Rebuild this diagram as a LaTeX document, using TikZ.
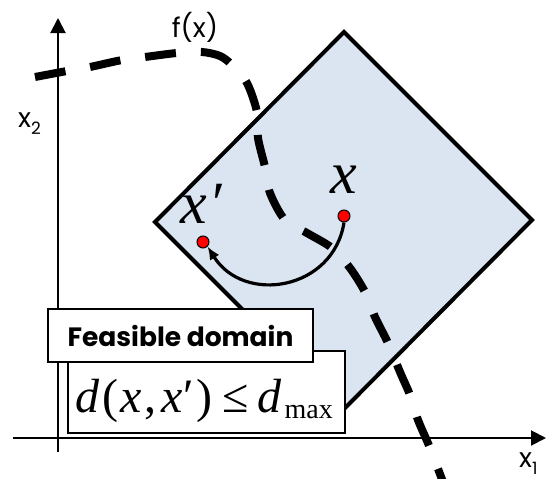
\documentclass[tikz,border=0pt]{standalone}
\usepackage{fontspec}
\newfontfamily\gothic{Poppins}
\newfontfamily\tnr{Liberation Serif}
\newfontfamily\tnri{Liberation Serif Italic}
\usetikzlibrary{arrows.meta}
\definecolor{domainblue}{RGB}{219,228,241}
\definecolor{dotred}{RGB}{255,0,0}
\tikzset{
  axisline/.style={line width=2pt,-{Triangle[length=15pt,width=15pt]}},
  domainshape/.style={draw=black,line width=4pt,fill=domainblue,line join=miter},
  fcurve/.style={line width=8pt,dash pattern=on 31pt off 25pt},
  ptdot/.style={circle,draw=black,line width=1pt,fill=dotred,minimum size=12pt,inner sep=0pt},
  labelbox/.style={draw=black,line width=2pt,fill=white},
  movearrow/.style={line width=3.2pt,-{Latex[length=13pt,width=11pt]}},
  axlabel/.style={font=\gothic\fontsize{27}{30}\selectfont,inner sep=0pt},
}
\begin{document}
\begin{tikzpicture}[x=1pt,y=-1pt]
\useasboundingbox (0,0) rectangle (546,479);
% axes
\coordinate (yb) at (58,452);
\coordinate (yt) at (58,18);
\coordinate (xb) at (13,438);
\coordinate (xt) at (546,438);
\draw[axisline] (yb) -- (yt);
\draw[axisline] (xb) -- (xt);
\node[axlabel,anchor=base west] (x2) at (18,127) {x\raisebox{-7pt}{\fontsize{17}{17}\selectfont 2}};
\node[axlabel,anchor=base west] (x1) at (519,467) {x\raisebox{-7pt}{\fontsize{17}{17}\selectfont 1}};
% feasible domain
\coordinate (dt) at (344,32);
\coordinate (dr) at (532,220);
\coordinate (db) at (343,410);
\coordinate (dl) at (155,222);
\draw[domainshape] (dt) -- (dr) -- (db) -- (dl) -- cycle;
% f(x) curve
\draw[fcurve] plot[smooth,tension=0.5] coordinates {(35,77) (67,71) (90,67) (122,60) (145,57) (177,53) (202,52) (220,56) (232,65) (247,83) (257,112) (258,138) (265,167) (270,193) (285,220) (307,233) (332,248) (350,268) (365,292) (375,317) (388,343) (400,372) (410,395) (418,420) (430,448) (446,490)};
\node[axlabel] (fx) at (195,27) {f(x)};
% points
\node[ptdot] (xd) at (344,216) {};
\node[ptdot] (xpd) at (203,242) {};
\node[font=\tnri\fontsize{60}{60}\selectfont,anchor=base,inner sep=0pt] (xlab) at (344,193) {x};
\node[font=\tnr\fontsize{60}{60}\selectfont,anchor=base west,inner sep=0pt] (xplab) at (180,223) {{\tnri x}\kern6pt′};
\draw[movearrow] (xd.south) to[out=-99,in=-58,looseness=1.27] (xpd.south east);
% boxes
\node[labelbox,minimum width=277pt,minimum height=82pt,anchor=north west] (condbox) at (67,350) {};
\node[labelbox,minimum width=265pt,minimum height=53pt,anchor=north west,font=\gothic\bfseries\fontsize{26.5}{30}\selectfont] (feas) at (47,308) {Feasible domain};
\node[anchor=base west,inner sep=0pt,font=\tnr\fontsize{48}{48}\selectfont] (cond) at (75,412) {{\tnri d}\kern3pt(\kern2pt{\tnri x}\kern3pt,\kern5pt{\tnri x}\kern1pt′\kern2pt)\kern10pt≤\kern9pt{\tnri d}\kern3pt\raisebox{-6pt}{\fontsize{28}{28}\selectfont max}};
\end{tikzpicture}
\end{document}
